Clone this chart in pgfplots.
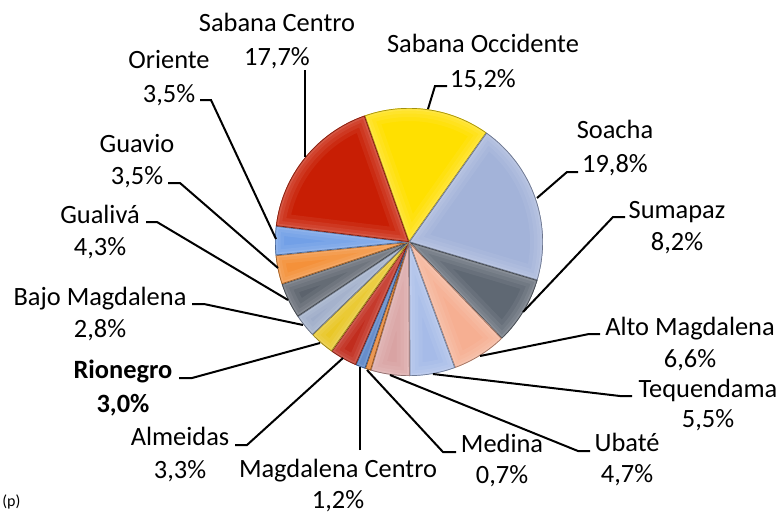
\documentclass[border=0pt]{standalone}
\usepackage{pgfplots}
\pgfplotsset{compat=1.18}
\usepackage{pgfplotstable}
\usepackage{fontspec}
\setmainfont{Carlito}

% slice colours (Excel 2007 style palette)
\definecolor{cSO}{HTML}{FFE000}
\definecolor{cSo}{HTML}{A3B3D9}
\definecolor{cSu}{HTML}{5F6873}
\definecolor{cAM}{HTML}{F6AF92}
\definecolor{cTe}{HTML}{A6BBE8}
\definecolor{cUb}{HTML}{D9A3A3}
\definecolor{cMe}{HTML}{E6761A}
\definecolor{cMC}{HTML}{4877C2}
\definecolor{cAl}{HTML}{BE2010}
\definecolor{cRi}{HTML}{E8C41A}
\definecolor{cBM}{HTML}{9AA8C6}
\definecolor{cGu}{HTML}{5C636D}
\definecolor{cGv}{HTML}{F48A2E}
\definecolor{cOr}{HTML}{6A9BE6}
\definecolor{cSC}{HTML}{C81E04}

\newcommand\lbl{\fontsize{13.2bp}{16bp}\selectfont}

% share in %, colour, bold label, label centre x, baselines,
% leader line: attach point, elbow, point on the pie (pixel coords)
\pgfplotstableread[col sep=comma]{
name,value,color,bold,tx,ty1,ty2,ax,ay,ex,ey,px,py
Sabana Occidente,15.2,cSO,0,483,53,87,447,86,435,86,428,109
Soacha,19.8,cSo,0,615,138,172,578,172,567,172,537,198
Sumapaz,8.2,cSu,0,677,218,250,625,217,613,217,523,312
Alto Magdalena,6.6,cAM,0,690,335,367,600,334,589,334,480,356
Tequendama,5.5,cTe,0,708,397,427,632,396,620,396,433,374
Ubaté,4.7,cUb,0,627,451,482,590,451,578,451,390,375
Medina,0.7,cMe,0,502,452,483,456,452,443,452,367,370
Magdalena Centro,1.2,cMC,0,338,477,508,360,450,360,450,360,367
Almeidas,3.3,cAl,0,180,445,478,235,445,247,445,343,358
Rionegro,3.0,cRi,1,123,378,412,179,378,192,378,320,343
Bajo Magdalena,2.8,cBM,0,100,305,337,192,304,204,304,303,325
Gualivá,4.3,cGu,0,100,223,255,146,222,157,222,288,300
Guavio,3.5,cGv,0,137,152,184,168,183,180,183,278,268
Oriente,3.5,cOr,0,169,68,102,200,100,211,100,276,239
Sabana Centro,17.7,cSC,0,277,32,65,305,70,305,70,305,157
}\piedata

\begin{document}
\begin{tikzpicture}
\begin{axis}[
    width=390bp, height=256bp, scale only axis,
    xmin=0, xmax=780, ymin=0, ymax=512, y dir=reverse,
    hide axis, clip=false,
]
\path (axis cs:0,0) rectangle (axis cs:780,512);

\pgfplotstablegetrowsof{\piedata}
\pgfmathtruncatemacro{\nrows}{\pgfplotsretval-1}
\def\cum{109.4}
\pgfplotsforeachungrouped \i in {0,...,\nrows}{%
    \pgfplotstablegetelem{\i}{value}\of\piedata \let\val\pgfplotsretval
    \pgfplotstablegetelem{\i}{color}\of\piedata \let\col\pgfplotsretval
    \pgfmathsetmacro{\angA}{\cum}
    \pgfmathsetmacro{\angB}{\cum-3.6*\val}
    \edef\slice{(axis cs:409,242) -- ++(\angA:67bp)
        arc[start angle=\angA, end angle=\angB, radius=67bp] -- cycle}
    % flat fill, then a soft bevel made of stacked translucent rims
    \edef\temp{%
        \noexpand\fill[\col] \slice;
        \noexpand\begin{scope}
        \noexpand\clip \slice;
        \noexpand\draw[line width=13bp, \col!60!white, opacity=0.15] \slice;
        \noexpand\draw[line width=9bp, \col!60!white, opacity=0.18] \slice;
        \noexpand\draw[line width=5.5bp, \col!60!white, opacity=0.2] \slice;
        \noexpand\draw[line width=2.5bp, \col!50!white, opacity=0.25] \slice;
        \noexpand\draw[line width=0.7bp, \col!55!black, opacity=0.8] \slice;
        \noexpand\end{scope}
    }
    \temp
    \let\cum\angB
}

% labels and leader lines
\pgfplotsforeachungrouped \i in {0,...,\nrows}{%
    \pgfplotstablegetelem{\i}{name}\of\piedata \let\nm\pgfplotsretval
    \pgfplotstablegetelem{\i}{value}\of\piedata \let\val\pgfplotsretval
    \pgfplotstablegetelem{\i}{bold}\of\piedata \let\bf\pgfplotsretval
    \pgfplotstablegetelem{\i}{tx}\of\piedata \let\tx\pgfplotsretval
    \pgfplotstablegetelem{\i}{ty1}\of\piedata \let\tya\pgfplotsretval
    \pgfplotstablegetelem{\i}{ty2}\of\piedata \let\tyb\pgfplotsretval
    \pgfplotstablegetelem{\i}{ax}\of\piedata \let\ax\pgfplotsretval
    \pgfplotstablegetelem{\i}{ay}\of\piedata \let\ay\pgfplotsretval
    \pgfplotstablegetelem{\i}{ex}\of\piedata \let\ex\pgfplotsretval
    \pgfplotstablegetelem{\i}{ey}\of\piedata \let\ey\pgfplotsretval
    \pgfplotstablegetelem{\i}{px}\of\piedata \let\px\pgfplotsretval
    \pgfplotstablegetelem{\i}{py}\of\piedata \let\py\pgfplotsretval
    \ifnum\bf=1 \def\ff{\noexpand\bfseries}\else\def\ff{}\fi
    \edef\temp{%
        \noexpand\draw[black, line width=1bp] (axis cs:\ax,\ay) -- (axis cs:\ex,\ey) -- (axis cs:\px,\py);
        \noexpand\node[anchor=base, inner sep=0pt, font=\noexpand\lbl\ff] at (axis cs:\tx,\tya) {\nm};
        \noexpand\node[anchor=base, inner sep=0pt, font=\noexpand\lbl\ff] at (axis cs:\tx,\tyb)
            {\noexpand\pgfmathprintnumber[fixed, fixed zerofill, precision=1, use comma, assume math mode=true]{\val}\noexpand\%};
    }
    \temp
}

\node[anchor=base west, inner sep=0pt, font=\fontsize{8bp}{9bp}\selectfont] at (axis cs:2,506) {(p)};
\end{axis}
\end{tikzpicture}
\end{document}
